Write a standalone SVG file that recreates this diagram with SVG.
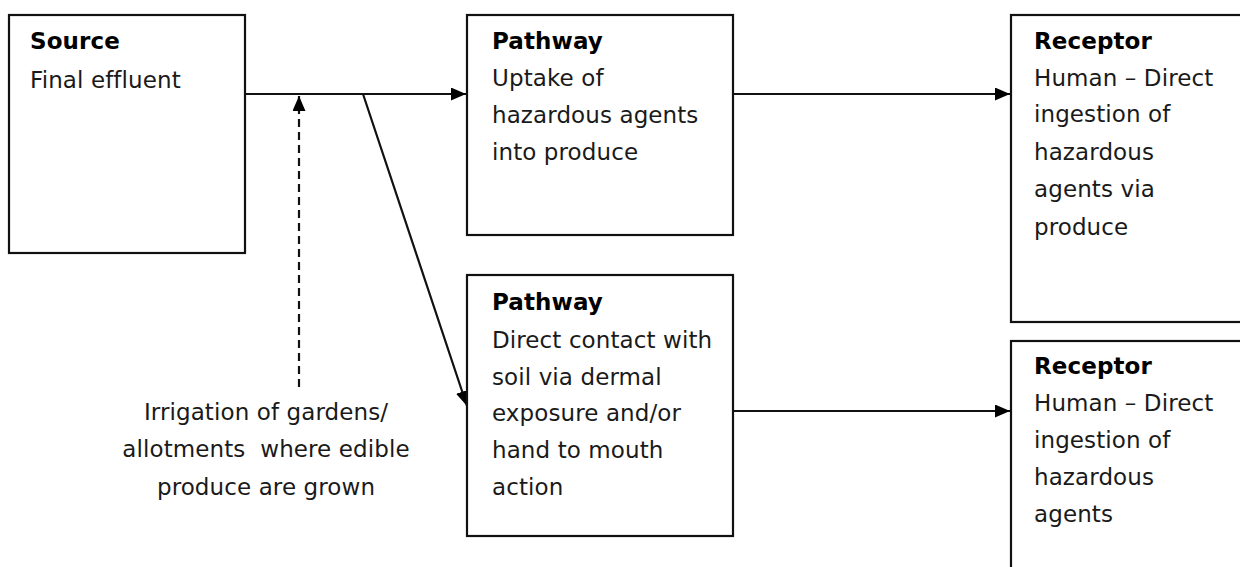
<svg xmlns="http://www.w3.org/2000/svg" width="1240" height="567" viewBox="0 0 1240 567">
<style>
.box{fill:#fff;stroke:#111;stroke-width:2.2}
.t{font-family:"DejaVu Sans",Verdana,sans-serif;font-size:23px;fill:#1a1a1a;letter-spacing:0.1px}
.b{font-weight:bold;fill:#000}
.ln{stroke:#111;stroke-width:2.2;fill:none}
.dash{stroke-dasharray:8 5}
</style>
<defs>
<marker id="ah" markerUnits="userSpaceOnUse" markerWidth="15" markerHeight="13" viewBox="0 0 15 13" refX="15" refY="6.5" orient="auto">
<path d="M0,0 L15,6.5 L0,13 z" fill="#000"/>
</marker>
</defs>
<rect width="1240" height="567" fill="#fff"/>
<g id="connectors">
<line class="ln" x1="245" y1="94" x2="466" y2="94" marker-end="url(#ah)"/>
<line class="ln" x1="733" y1="94" x2="1010" y2="94" marker-end="url(#ah)"/>
<line class="ln" x1="733" y1="411" x2="1010" y2="411" marker-end="url(#ah)"/>
<line class="ln" x1="363" y1="94" x2="467" y2="406" marker-end="url(#ah)"/>
<line class="ln dash" x1="299" y1="387" x2="299" y2="96" marker-end="url(#ah)"/>
</g>
<g id="source">
<rect class="box" x="9" y="15" width="236" height="238"/>
<text class="t b" x="30" y="49">Source</text>
<text class="t" x="30" y="88">Final effluent</text>
</g>
<g id="pathway1">
<rect class="box" x="467" y="15" width="266" height="220"/>
<text class="t b" x="492" y="49">Pathway</text>
<text class="t" x="492" y="86">Uptake of</text>
<text class="t" x="492" y="123">hazardous agents</text>
<text class="t" x="492" y="160">into produce</text>
</g>
<g id="pathway2">
<rect class="box" x="467" y="275" width="266" height="261"/>
<text class="t b" x="492" y="310">Pathway</text>
<text class="t" x="492" y="348">Direct contact with</text>
<text class="t" x="492" y="385">soil via dermal</text>
<text class="t" x="492" y="421">exposure and/or</text>
<text class="t" x="492" y="458">hand to mouth</text>
<text class="t" x="492" y="495">action</text>
</g>
<g id="receptor1">
<rect class="box" x="1011" y="15" width="240" height="307"/>
<text class="t b" x="1034" y="49">Receptor</text>
<text class="t" x="1034" y="86">Human – Direct</text>
<text class="t" x="1034" y="122">ingestion of</text>
<text class="t" x="1034" y="160">hazardous</text>
<text class="t" x="1034" y="197">agents via</text>
<text class="t" x="1034" y="235">produce</text>
</g>
<g id="receptor2">
<rect class="box" x="1011" y="341" width="240" height="240"/>
<text class="t b" x="1034" y="374">Receptor</text>
<text class="t" x="1034" y="411">Human – Direct</text>
<text class="t" x="1034" y="448">ingestion of</text>
<text class="t" x="1034" y="485">hazardous</text>
<text class="t" x="1034" y="522">agents</text>
</g>
<g id="irrigation-label">
<text class="t" x="266" y="420" text-anchor="middle">Irrigation of gardens/</text>
<text class="t" x="266" y="457" text-anchor="middle" xml:space="preserve">allotments  where edible</text>
<text class="t" x="266" y="495" text-anchor="middle">produce are grown</text>
</g>
</svg>
